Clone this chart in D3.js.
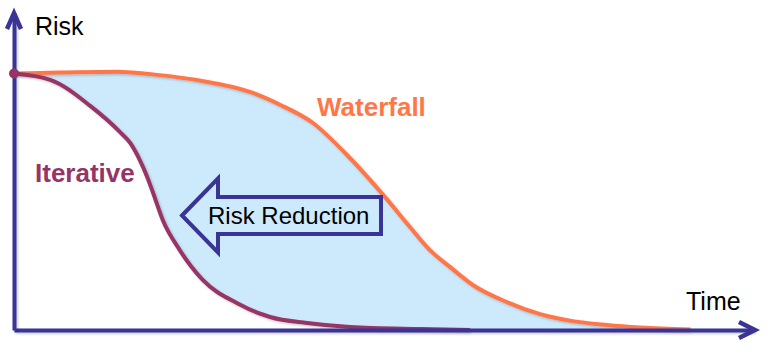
<!DOCTYPE html>
<html>
<head>
<meta charset="utf-8">
<script src="https://cdn.jsdelivr.net/npm/d3@7"></script>
<style>
  body { margin: 0; background: #fff; }
  text { font-family: Arial, "Liberation Sans", sans-serif; }
</style>
</head>
<body>
<div id="chart_area"></div>
<script>
var width = 772, height = 352;

// waterfall risk curve (time 0-100, risk 0-100)
var waterfallTime = [0, 6.2, 13.9, 19.7, 25.1, 31.9, 36.0, 40.4, 45.0, 50.0, 53.5, 56.2, 58.9, 62.0, 66.6, 71.1, 75.5, 80.1, 84.6, 91.4];
var waterfallRisk = [80.9, 81.2, 81.5, 80.4, 78.7, 75.1, 71.0, 65.3, 55.2, 42.3, 32.5, 25.2, 19.9, 14.2, 8.8, 5.0, 2.8, 1.6, 0.8, 0.15];

// iterative risk curve
var iterativeTime = [0, 4.9, 10.3, 14.3, 15.7, 17.0, 18.0, 18.8, 20.1, 22.4, 25.5, 30.1, 34.6, 39.6, 45.4, 54.9, 61.6];
var iterativeRisk = [80.9, 78.9, 70.7, 62.5, 59.0, 53.6, 48.3, 43.2, 34.7, 25.2, 15.8, 8.5, 4.1, 2.2, 0.95, 0.3, 0];

var labels = { y: "Risk", x: "Time", waterfall: "Waterfall", iterative: "Iterative", arrow: "Risk Reduction" };

var axisColour = "#393496",
    waterfallColour = "#ff7748",
    iterativeColour = "#963466",
    fillColour = "#cdeafc";

var waterfall = waterfallTime.map(function (t, i) { return { t: t, r: waterfallRisk[i] }; });
var iterative = iterativeTime.map(function (t, i) { return { t: t, r: iterativeRisk[i] }; });

var svg = d3.select("#chart_area")
    .append("svg")
    .attr("width", width)
    .attr("height", height);

// soft drop shadow, region big enough for translated axis groups
var defs = svg.append("defs");
var shadow = defs.append("filter").attr("id", "shadow")
    .attr("filterUnits", "userSpaceOnUse")
    .attr("x", -1000).attr("y", -1000).attr("width", 3000).attr("height", 3000);
shadow.append("feDropShadow")
    .attr("dx", 1.5).attr("dy", 1.5).attr("stdDeviation", 1)
    .attr("flood-color", "#000").attr("flood-opacity", 0.2);

var x = d3.scaleLinear().domain([0, 100]).range([14, 754]);
var y = d3.scaleLinear().domain([0, 100]).range([330, 13]);

var line = d3.line()
    .x(function (d) { return x(d.t); })
    .y(function (d) { return y(d.r); })
    .curve(d3.curveMonotoneX);

// blue area between the two curves
var wfPath = line(waterfall);
var itBack = iterative.slice().reverse();
itBack.unshift({ t: waterfallTime[waterfallTime.length - 1], r: 0 });
var itPath = line(itBack).replace(/^M/, "L");
svg.append("path")
    .attr("d", wfPath + itPath + "Z")
    .attr("fill", fillColour);

// curves
svg.append("path")
    .attr("d", wfPath)
    .attr("fill", "none")
    .attr("stroke", waterfallColour)
    .attr("stroke-width", 4)
    .attr("filter", "url(#shadow)");

svg.append("path")
    .attr("d", line(iterative))
    .attr("fill", "none")
    .attr("stroke", iterativeColour)
    .attr("stroke-width", 4)
    .attr("filter", "url(#shadow)");

// axes (no ticks)
var xAxis = svg.append("g")
    .attr("transform", "translate(0," + y(0) + ")")
    .call(d3.axisBottom(x).tickValues([]).tickSizeOuter(0));
var yAxis = svg.append("g")
    .attr("transform", "translate(" + x(0) + ",0)")
    .call(d3.axisLeft(y).tickValues([]).tickSizeOuter(0));
[xAxis, yAxis].forEach(function (g) {
    g.select(".domain")
        .attr("stroke", axisColour)
        .attr("stroke-width", 4)
        .attr("filter", "url(#shadow)");
});

// arrow heads
var x1 = x.range()[1], y0 = y(0), x0 = x(0), y1 = y.range()[1];
svg.append("path")
    .attr("d", "M" + (x1 - 15) + "," + (y0 - 8) + "L" + (x1 + 1) + "," + y0 + "L" + (x1 - 15) + "," + (y0 + 8))
    .attr("fill", "none").attr("stroke", axisColour).attr("stroke-width", 4.5)
    .attr("stroke-linejoin", "miter");
svg.append("path")
    .attr("d", "M" + (x0 - 7) + "," + (y1 + 16) + "L" + x0 + "," + y1 + "L" + (x0 + 7) + "," + (y1 + 16))
    .attr("fill", "none").attr("stroke", axisColour).attr("stroke-width", 4.5)
    .attr("stroke-linejoin", "miter");

// start dot
svg.append("circle")
    .attr("cx", x(iterative[0].t))
    .attr("cy", y(iterative[0].r))
    .attr("r", 5)
    .attr("fill", iterativeColour);

// risk reduction arrow
var tipX = 182, tipY = 215.5, headX = 218, shaftEnd = 381, headH = 37, shaftH = 18.5;
svg.append("path")
    .attr("d", "M" + tipX + "," + tipY +
        "L" + headX + "," + (tipY - headH) +
        "L" + headX + "," + (tipY - shaftH) +
        "L" + shaftEnd + "," + (tipY - shaftH) +
        "L" + shaftEnd + "," + (tipY + shaftH) +
        "L" + headX + "," + (tipY + shaftH) +
        "L" + headX + "," + (tipY + headH) + "Z")
    .attr("fill", fillColour)
    .attr("stroke", axisColour)
    .attr("stroke-width", 4)
    .attr("stroke-linejoin", "miter");

svg.append("text")
    .attr("x", 208).attr("y", 224)
    .attr("font-size", 24)
    .attr("fill", "#000")
    .text(labels.arrow);

// axis labels
svg.append("text")
    .attr("x", 35).attr("y", 35)
    .attr("font-size", 25)
    .attr("fill", "#000")
    .text(labels.y);
svg.append("text")
    .attr("x", 686).attr("y", 310)
    .attr("font-size", 25)
    .attr("fill", "#000")
    .text(labels.x);

// series labels
svg.append("text")
    .attr("x", 317).attr("y", 116)
    .attr("font-size", 26)
    .attr("font-weight", "bold")
    .attr("fill", waterfallColour)
    .text(labels.waterfall);
svg.append("text")
    .attr("x", 35).attr("y", 182)
    .attr("font-size", 26)
    .attr("font-weight", "bold")
    .attr("fill", iterativeColour)
    .text(labels.iterative);
</script>
</body>
</html>
